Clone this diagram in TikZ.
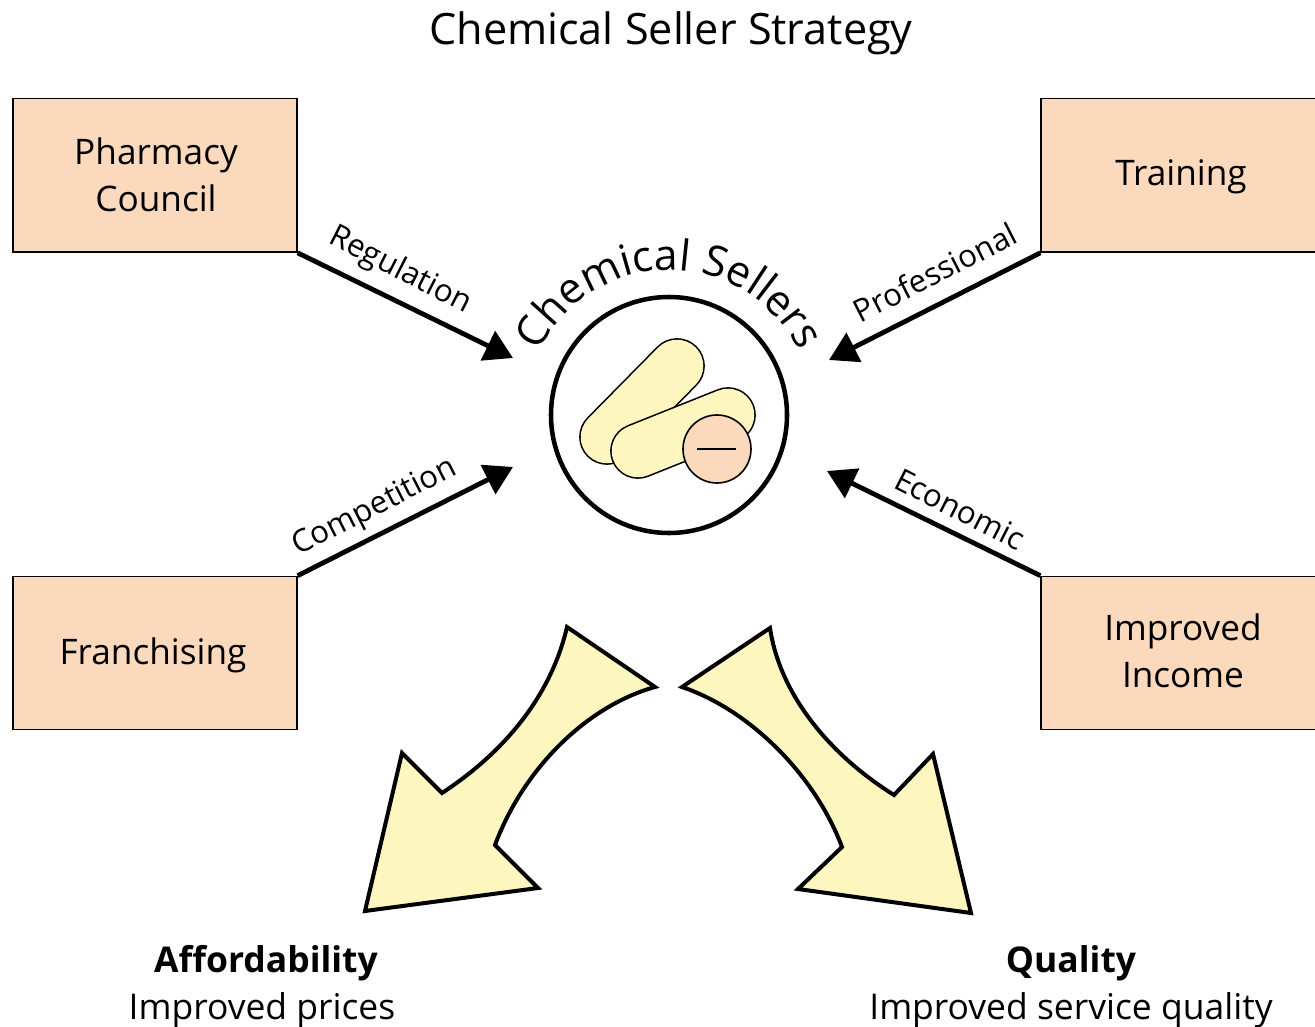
\documentclass[tikz,border=0pt]{standalone}
\usepackage{fontspec}
\setmainfont{Open Sans}
\usetikzlibrary{arrows.meta,decorations.text}
\definecolor{boxfill}{HTML}{FAD9BC}
\definecolor{pale}{HTML}{FDF6BE}
\tikzset{
  x=0.75pt,y=-0.75pt,
  box/.style={draw=black,fill=boxfill,line width=1pt,minimum width=213pt,minimum height=115pt,inner sep=0pt,align=center},
  boxtxt/.style={inner sep=0pt,align=center,font=\fontsize{26.4}{35}\selectfont},
  conn/.style={line width=3.6pt,-{Triangle[length=21pt,width=24pt]}},
  lab/.style={font=\fontsize{23.4}{26}\selectfont,inner sep=0pt},
  bigarrow/.style={draw=black,fill=pale,line width=3pt,miter limit=20},
  capsule/.style={line cap=round},
  txt/.style={align=center,inner sep=0pt,font=\fontsize{26.6}{35}\selectfont},
}
\begin{document}
\begin{tikzpicture}
\useasboundingbox (0,0) rectangle (1315,1027);
\node[inner sep=0pt,font=\fontsize{32.4}{38}\selectfont] (title) at (671,33) {Chemical Seller Strategy};
\node[box] (pc) at (155,175.5) {};
\node[box] (tr) at (1183,175.5) {};
\node[box] (fr) at (155,653) {};
\node[box] (ii) at (1183,653) {};
\node[boxtxt] (pct) at (156,175) {Pharmacy\\Council};
\node[boxtxt] (trt) at (1181,177) {Training};
\node[boxtxt] (frt) at (153,655) {Franchising};
\node[boxtxt] (iit) at (1183,651) {Improved\\Income};
\node[circle,draw=black,fill=white,line width=3.4pt,minimum size=177pt,inner sep=0pt] (hub) at (669,415) {};
\coordinate (a1) at (513,358);
\coordinate (a2) at (829,360);
\coordinate (a3) at (513,467);
\coordinate (a4) at (827,471);
\draw[conn] (pc.south east) -- (a1);
\draw[conn] (tr.south west) -- (a2);
\draw[conn] (fr.north east) -- (a3);
\draw[conn] (ii.north west) -- (a4);
\node[lab,rotate=-27] (l1) at (400,271) {Regulation};
\node[lab,rotate=27] (l2) at (935,272) {Professional};
\node[lab,rotate=27] (l3) at (375,508) {Competition};
\node[lab,rotate=-27] (l4) at (960,509) {Economic};
% pills
\draw[capsule,line width=41.8pt,black] (677,366) -- (607,437);
\draw[capsule,line width=39.4pt,pale] (677,366) -- (607,437);
\draw[capsule,line width=41.8pt,black] (728,415) -- (638,451);
\draw[capsule,line width=39.4pt,pale] (728,415) -- (638,451);
\draw[fill=boxfill,draw=black,line width=1.2pt] (717,449) circle[radius=25.5pt];
\draw[black,line width=1pt] (697,449) -- (736,449);
% curved text
\path[decorate,decoration={text along path,text align=center,raise=0pt,
  text={|\fontsize{32}{38}\selectfont|Chemical Sellers}}]
  (541.0,347) arc[start angle=152,end angle=28,radius=108.75pt];
% big arrows
\draw[bigarrow] (567,627) -- (655,687) .. controls (590,705) and (525,765) .. (495,845) -- (538,888) -- (365,911) -- (402,753) -- (442,793) .. controls (500,755) and (550,700) .. (567,627) -- cycle;
\draw[bigarrow] (770,628) .. controls (780,695) and (830,755) .. (894,795) -- (933,754) -- (971,913) -- (798,889) -- (842,847) .. controls (815,775) and (750,710) .. (682,687) -- cycle;
\node[txt] (aff) at (262,987) {\hspace*{6pt}\textbf{Affordability}\\Improved prices};
\node[txt] (qual) at (1071,987) {\textbf{Quality}\\Improved service quality};
\end{tikzpicture}
\end{document}
